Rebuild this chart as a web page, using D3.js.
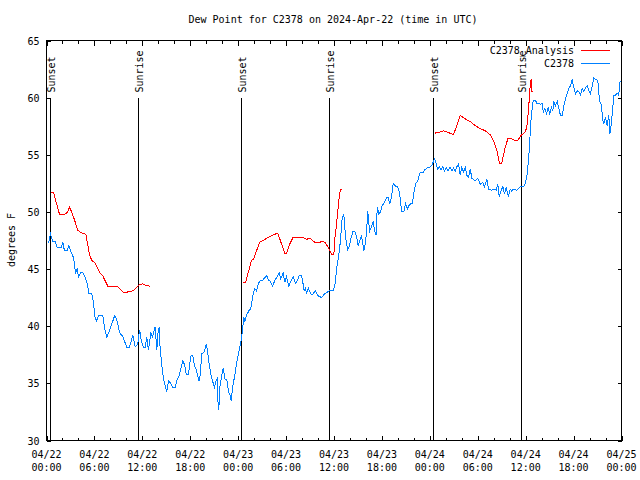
<!DOCTYPE html>
<html>
<head>
<meta charset="utf-8">
<script src="https://cdn.jsdelivr.net/npm/d3@7"></script>
<style>
  html, body { margin: 0; padding: 0; background: #fff; }
  svg { display: block; }
  text { font-family: "DejaVu Sans Mono", "Liberation Mono", monospace; font-size: 10px; fill: #000; }
</style>
</head>
<body>
<svg id="chart" width="640" height="480"></svg>
<script>
// ---------------- data (hours after 2024-04-22 00:00 UTC) ----------------
const chartTitle = "Dew Point for C2378 on 2024-Apr-22 (time in UTC)";
const yAxisLabel = "degrees F";
const seriesNames = ["C2378_Analysis", "C2378"];

const stationHours = [0.25,0.38,0.50,0.59,0.79,1.09,1.34,1.84,2.04,2.25,2.59,2.79,3.01,3.29,3.51,3.63,3.84,4.01,4.26,4.55,4.85,5.10,5.30,5.67,5.92,6.01,6.26,6.51,7.05,7.26,7.55,7.89,8.23,8.55,8.85,9.14,9.55,10.06,10.39,10.81,11.11,11.43,11.65,11.76,11.86,12.15,12.36,12.56,12.77,13.06,13.27,13.49,13.61,13.81,13.94,14.11,14.24,14.36,14.53,14.74,15.06,15.28,15.56,15.82,16.12,16.32,16.62,16.87,17.07,17.28,17.49,17.78,17.99,18.12,18.32,18.53,18.70,18.91,19.12,19.25,19.45,19.75,20.00,20.16,20.37,20.57,20.79,21.04,21.20,21.37,21.45,21.58,21.70,21.95,22.13,22.38,22.58,22.79,23.00,23.13,23.33,23.54,23.83,24.13,24.38,24.51,24.55,24.71,24.83,25.04,25.38,25.58,25.80,26.08,26.30,26.51,26.71,27.05,27.34,27.55,27.84,27.96,28.30,28.59,28.89,29.14,29.34,29.64,29.84,30.05,30.34,30.59,30.89,31.18,31.43,31.64,31.93,32.06,32.27,32.43,32.56,32.77,32.97,33.18,33.40,33.68,33.93,34.44,34.72,35.06,35.47,35.90,36.10,36.28,36.40,36.60,36.81,37.03,37.23,37.35,37.53,37.73,37.94,38.15,38.36,38.61,38.82,39.03,39.23,39.44,39.61,39.73,39.95,40.07,40.23,40.45,40.66,40.91,41.07,41.28,41.41,41.61,41.82,42.04,42.32,42.57,42.79,42.99,43.20,43.41,43.61,43.91,44.12,44.33,44.45,44.74,44.95,45.17,45.37,45.58,45.79,45.99,46.21,46.50,46.75,47.17,47.37,47.67,48.09,48.30,48.50,48.59,48.75,48.96,49.21,49.42,49.62,49.84,50.05,50.25,50.55,50.75,50.96,51.18,51.38,51.59,51.80,52.00,52.21,52.43,52.63,52.84,53.06,53.26,53.68,54.01,54.31,54.60,54.85,55.14,55.35,55.69,55.97,56.31,56.51,56.69,56.94,57.14,57.35,57.56,57.85,58.06,58.26,58.47,58.89,59.31,59.73,59.94,60.19,60.39,60.69,60.94,61.02,61.23,61.45,61.65,61.86,62.07,62.20,62.40,62.61,62.82,63.02,63.24,63.40,63.53,63.74,63.95,64.15,64.36,64.58,64.78,64.99,65.20,65.40,65.61,65.82,66.03,66.24,66.45,66.65,66.87,67.08,67.28,67.49,67.70,67.90,68.12,68.33,68.53,68.74,69.03,69.24,69.50,69.62,69.79,70.00,70.21,70.41,70.54,70.71,70.84,71.04,71.25,71.46,71.66,71.79,71.87];
const stationValues = [47.27,47.65,48.2,47.8,47.4,47.4,46.85,46.85,47.35,46.6,46.6,47.05,46.6,46.2,45.45,44.6,45.0,44.3,44.7,44.65,44.3,43.7,42.9,42.85,41.95,40.95,40.45,40.95,40.95,39.9,39.05,39.6,40.3,40.95,40.45,39.45,39.1,38.15,38.15,39.2,38.2,38.45,39.65,39.3,38.75,38.1,38.1,39.05,37.9,39.4,39.05,39.7,39.95,37.9,39.35,39.9,37.9,37.15,36.0,35.1,34.25,35.2,35.0,34.65,34.65,35.25,35.7,36.4,36.95,36.65,35.8,35.8,37.0,37.45,37.45,36.55,36.3,35.7,35.2,35.8,37.6,37.75,38.4,37.9,36.65,35.85,35.2,34.65,35.2,35.4,33.5,32.7,34.65,35.7,36.3,35.3,35.3,34.25,33.95,33.5,34.8,35.55,36.85,37.9,38.75,39.45,39.7,40.8,40.35,40.95,41.4,41.5,42.55,43.3,43.1,43.7,43.95,44.0,44.25,44.45,44.0,44.0,43.5,44.0,44.35,44.65,44.15,44.65,43.85,44.35,43.5,43.95,44.3,43.75,44.0,44.45,44.45,44.0,43.1,43.35,42.8,43.35,43.0,42.75,42.85,43.1,42.7,42.5,42.75,42.95,43.1,43.15,43.55,44.6,45.45,46.2,47.5,49.55,49.8,48.65,47.35,46.7,47.05,47.75,48.25,48.25,47.85,47.05,47.5,47.95,47.2,46.55,47.35,48.25,50.05,48.3,48.6,49.2,48.35,47.95,50.4,49.85,50.0,50.55,50.85,51.25,51.25,50.7,51.3,52.5,52.3,52.2,51.95,51.0,50.0,50.0,50.7,50.25,50.55,50.7,50.7,51.6,52.45,52.75,53.4,53.45,53.7,53.85,53.95,54.15,54.5,54.65,54.35,53.75,53.95,53.7,53.95,53.6,53.9,53.6,53.9,53.6,53.85,53.55,53.95,54.2,53.2,53.9,53.5,53.9,53.2,53.05,53.75,52.95,52.7,52.95,52.4,52.6,52.2,52.9,52.0,51.9,52.0,51.9,52.4,51.3,51.9,52.2,51.6,52.15,51.35,52.0,51.8,52.0,51.9,52.2,52.2,52.45,53.3,54.8,58.3,59.75,59.8,59.75,59.45,59.5,59.4,59.5,58.75,59.05,58.6,59.15,58.6,59.15,58.85,59.6,59.3,59.7,59.05,58.45,58.45,59.3,59.9,60.35,60.8,61.05,61.55,60.9,60.35,60.6,60.5,60.2,60.8,60.5,60.9,61.05,60.6,60.35,61.0,61.75,61.6,61.5,59.75,59.3,58.15,57.7,58.3,57.55,58.45,56.8,57.6,58.6,60.2,60.2,60.4,60.2,61.35,61.5];

// analysis series; null marks a gap between segments
const analysisHours = [0.59,0.88,1.21,1.63,2.25,2.59,2.88,3.09,3.51,3.92,4.26,4.92,5.38,5.67,6.01,6.76,7.05,7.68,8.30,8.93,9.68,10.18,10.81,11.23,11.65,12.02,12.40,12.94,
  13.5,
  24.63,24.96,25.26,25.67,25.96,26.30,26.71,27.14,27.55,27.96,28.39,28.80,29.01,29.43,29.84,30.05,30.47,30.89,31.30,32.14,32.56,32.97,33.60,34.02,34.43,34.85,35.27,35.69,35.98,36.10,36.28,36.40,36.60,36.81,37.03,
  37.5,
  48.67,49.09,49.71,50.34,50.96,51.38,51.80,52.43,53.06,53.68,54.31,54.93,55.56,55.97,56.39,56.72,57.01,57.35,57.76,58.26,58.60,59.01,59.44,59.94,60.14,60.35,60.57,60.69,60.77,60.94];
const analysisValues = [51.7,51.7,50.85,49.8,49.8,49.95,50.4,50.1,49.3,48.4,48.2,48.05,46.3,45.75,45.6,44.6,44.4,43.5,43.5,43.45,42.9,43.0,43.1,43.35,43.65,43.7,43.6,43.5,
  null,
  43.83,43.85,44.7,45.75,45.9,46.6,47.35,47.5,47.7,47.85,48.0,48.1,48.05,47.2,46.4,46.4,47.2,47.8,47.8,47.75,47.6,47.7,47.35,47.3,47.4,47.35,46.9,46.3,46.25,47.65,48.65,49.5,51.0,52.0,52.0,
  null,
  56.9,56.95,57.1,56.95,56.75,57.55,58.45,58.15,57.9,57.55,57.3,57.1,56.75,56.25,55.4,54.25,54.25,55.4,56.4,56.4,56.25,56.25,56.7,57.0,57.4,58.9,61.05,61.65,60.5,60.5];

// sunrise / sunset markers (hours after start)
const sunHours = [0.54, 11.56, 24.46, 35.48, 48.5, 59.52];
const sunLabels = ["Sunset", "Sunrise", "Sunset", "Sunrise", "Sunset", "Sunrise"];

const yTicks = [30, 35, 40, 45, 50, 55, 60, 65];
const yDomain = [30, 65];
const xDomainHours = [0, 72];

// ---------------- drawing ----------------
const W = 640, H = 480;
const margin = { left: 46, right: 19, top: 40, bottom: 40 };
const iw = W - margin.left - margin.right;
const ih = H - margin.top - margin.bottom;

const startMs = Date.UTC(2024, 3, 22, 0, 0, 0);
const toDate = h => new Date(startMs + h * 3600e3);

const svg = d3.select("#chart");
const g = svg.append("g").attr("transform", `translate(${margin.left + 0.5},${margin.top + 0.5})`);

const x = d3.scaleUtc().domain(xDomainHours.map(toDate)).range([0, iw]);
const y = d3.scaleLinear().domain(yDomain).range([ih, 0]);

// title
svg.append("text").attr("x", 333).attr("y", 23).attr("text-anchor", "middle").text(chartTitle);
// y label
svg.append("text").attr("transform", "translate(15,240) rotate(-90)").attr("text-anchor", "middle").text(yAxisLabel);

// x axis ticks (major 6h, minor 2h), bottom and top, pointing inward
const majorTicks = x.ticks(d3.utcHour.every(6));
const minorTicks = x.ticks(d3.utcHour.every(2)).filter(d => d.getUTCHours() % 6 !== 0);

function styleAxis(sel) {
  sel.select(".domain").remove();
  sel.selectAll("line").attr("stroke", "#000").attr("shape-rendering", "crispEdges");
}
g.append("g").attr("transform", `translate(0,${ih})`)
  .call(d3.axisBottom(x).tickValues(majorTicks).tickSize(-5).tickFormat(""))
  .call(styleAxis);
g.append("g").attr("transform", `translate(0,${ih})`)
  .call(d3.axisBottom(x).tickValues(minorTicks).tickSize(-3).tickFormat(""))
  .call(styleAxis);
g.append("g")
  .call(d3.axisTop(x).tickValues(majorTicks).tickSize(-5).tickFormat(""))
  .call(styleAxis);
g.append("g")
  .call(d3.axisTop(x).tickValues(minorTicks).tickSize(-3).tickFormat(""))
  .call(styleAxis);

// x tick labels (two lines)
const fmtDate = d3.utcFormat("%m/%d"), fmtTime = d3.utcFormat("%H:%M");
const xl = g.append("g").selectAll("text").data(majorTicks).join("text")
  .attr("text-anchor", "middle")
  .attr("transform", d => `translate(${x(d)},${ih + 17})`);
xl.append("tspan").attr("x", 0).attr("y", 0).text(fmtDate);
xl.append("tspan").attr("x", 0).attr("y", 13).text(fmtTime);

// y axis ticks, left and right
g.append("g").call(d3.axisLeft(y).tickValues(yTicks).tickSize(-4).tickPadding(6).tickFormat(d3.format("d")))
  .call(styleAxis)
  .call(s => s.selectAll("text").attr("x", -7).attr("dy", "0.35em").style("font-family", null).style("font-size", null));
g.append("g").attr("transform", `translate(${iw},0)`)
  .call(d3.axisRight(y).tickValues(yTicks).tickSize(-4).tickFormat(""))
  .call(styleAxis);
g.selectAll(".tick text").attr("font-family", null).attr("font-size", null);

// sunrise/sunset lines and labels
const sunTop = 57;
g.append("g").selectAll("line").data(sunHours).join("line")
  .attr("x1", d => Math.round(x(toDate(d)))).attr("x2", d => Math.round(x(toDate(d))))
  .attr("y1", sunTop).attr("y2", ih)
  .attr("stroke", "#000").attr("shape-rendering", "crispEdges");
g.append("g").selectAll("text").data(sunHours).join("text")
  .attr("transform", d => `translate(${Math.round(x(toDate(d))) + 4},${sunTop - 5}) rotate(-90)`)
  .attr("text-anchor", "start")
  .text((d, i) => sunLabels[i]);

// lines
const station = stationHours.map((h, i) => ({ t: toDate(h), v: stationValues[i] }));
const analysis = analysisHours.map((h, i) => ({ t: toDate(h), v: analysisValues[i] }));
const line = d3.line().defined(d => d.v !== null).x(d => x(d.t)).y(d => y(d.v));

g.append("path").datum(analysis).attr("d", line)
  .attr("fill", "none").attr("stroke", "#ff0000").attr("stroke-width", 1).attr("shape-rendering", "crispEdges");
g.append("path").datum(station).attr("d", line)
  .attr("fill", "none").attr("stroke", "#0080ff").attr("stroke-width", 1).attr("shape-rendering", "crispEdges");

// border
g.append("rect").attr("x", 0).attr("y", 0).attr("width", iw).attr("height", ih)
  .attr("fill", "none").attr("stroke", "#000").attr("shape-rendering", "crispEdges");

// legend
const legendColors = ["#ff0000", "#0080ff"];
const lg = svg.append("g");
seriesNames.forEach((name, i) => {
  const ly = 50 + i * 12.5;
  lg.append("text").attr("x", 574).attr("y", ly + 4).attr("text-anchor", "end").text(name);
  lg.append("line").attr("x1", 581).attr("x2", 610).attr("y1", Math.round(ly) + 0.5).attr("y2", Math.round(ly) + 0.5)
    .attr("stroke", legendColors[i]).attr("shape-rendering", "crispEdges");
});
</script>
</body>
</html>
